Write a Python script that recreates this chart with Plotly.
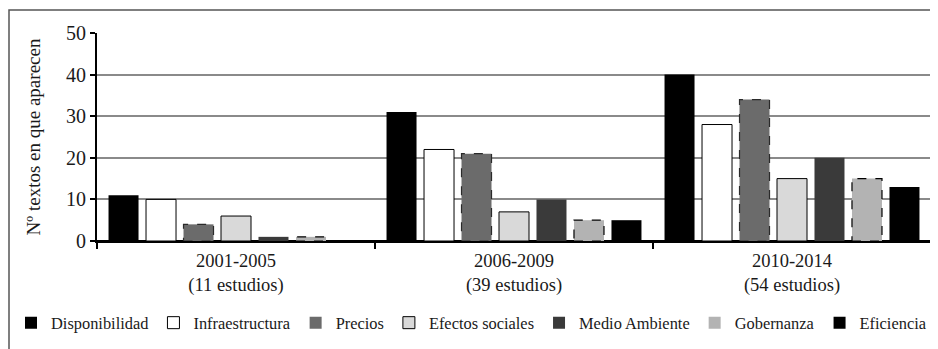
import plotly.graph_objects as go

# ---------------- data ----------------
categories = ["2001-2005<br>(11 estudios)", "2006-2009<br>(39 estudios)", "2010-2014<br>(54 estudios)"]
series_names = ["Disponibilidad", "Infraestructura", "Precios", "Efectos sociales",
                "Medio Ambiente", "Gobernanza", "Eficiencia"]
disponibilidad = [11, 31, 40]
infraestructura = [10, 22, 28]
precios = [4, 21, 34]
efectos_sociales = [6, 7, 15]
medio_ambiente = [1, 10, 20]
gobernanza = [1, 5, 15]
eficiencia = [0, 5, 13]
y_ticks = [0, 10, 20, 30, 40, 50]
y_title = "Nº textos en que aparecen"

series_values = [disponibilidad, infraestructura, precios, efectos_sociales,
                 medio_ambiente, gobernanza, eficiencia]

# ---------------- styles ----------------
fills = ["#000000", "#ffffff", "#6b6b6b", "#d9d9d9", "#3a3a3a", "#b3b3b3", "#000000"]
line_cols = ["#000000", "#000000", "#6b6b6b", "#000000", "#3a3a3a", "#b3b3b3", "#000000"]
line_w = [0, 1, 0, 1, 0, 0, 0]
dashed = [False, False, True, False, False, True, False]
dash_cols = ["", "", "#2a2a2a", "", "", "#000000", ""]

FONT = "Liberation Serif"
TXT = "#1a1a1a"
BARGAP = 0.056
GROUPGAP = 0.2

# page body has an 8px default margin -> compensate
OFF = 8
L, T, PW, PH = 97 - OFF, 33 - OFF, 834, 208
W, H = 938 - OFF, 349 - OFF


def px2x(px):
    return (px - OFF - L) / PW


def px2y(py):
    return (T + PH - (py - OFF)) / PH


fig = go.Figure()
for name, vals, fc, lc, lw in zip(series_names, series_values, fills, line_cols, line_w):
    fig.add_trace(go.Bar(
        name=name, x=categories, y=vals,
        marker=dict(color=fc, line=dict(color=lc, width=lw)),
    ))

# dashed outlines for the dashed-border series, derived from the bar layout
n = len(series_names)
slot = (1 - BARGAP) / n
bw = slot * (1 - GROUPGAP)
for k, (vals, is_d, dc) in enumerate(zip(series_values, dashed, dash_cols)):
    if not is_d:
        continue
    for ci, v in enumerate(vals):
        c = ci - (1 - BARGAP) / 2 + (k + 0.5) * slot
        fig.add_shape(type="rect", xref="x", yref="y",
                      x0=c - bw / 2, x1=c + bw / 2, y0=0, y1=v,
                      line=dict(color=dc, width=1.2, dash="dash"),
                      fillcolor="rgba(0,0,0,0)", layer="above")

# outer frame
fig.add_shape(type="rect", xref="paper", yref="paper",
              x0=px2x(9), x1=px2x(950),
              y0=px2y(360), y1=px2y(10),
              line=dict(color="#555555", width=1.5), layer="below")

fig.update_layout(
    width=W, height=H,
    margin=dict(l=L, r=W - L - PW, t=T, b=H - T - PH, autoexpand=False),
    paper_bgcolor="white", plot_bgcolor="white",
    barmode="group", bargap=BARGAP, bargroupgap=GROUPGAP,
    font=dict(family=FONT, size=18.5, color=TXT),
    showlegend=True,
    legend=dict(orientation="h", x=px2x(11), xanchor="left",
                y=px2y(323), yanchor="middle",
                font=dict(family=FONT, size=16.4, color=TXT),
                itemwidth=30, tracegroupgap=0, bgcolor="rgba(0,0,0,0)"),
)

fig.update_xaxes(
    type="category", range=[-0.5, 2.5], automargin=False,
    showline=True, linecolor="#000000", linewidth=2,
    ticks="outside", tickson="boundaries", ticklen=6, tickwidth=2, tickcolor="#000000",
    ticklabelstandoff=2,
    showgrid=False, tickfont=dict(family=FONT, size=18.5, color=TXT),
)
fig.update_yaxes(
    range=[0, 50], tickvals=y_ticks, automargin=False,
    showline=True, linecolor="#000000", linewidth=2,
    ticks="outside", ticklen=5, tickwidth=2, tickcolor="#000000",
    showgrid=True, gridcolor="#8a8a8a", gridwidth=2,
    zeroline=True, zerolinecolor="#000000", zerolinewidth=2,
    tickfont=dict(family=FONT, size=20, color=TXT),
    title=dict(text=y_title, font=dict(family=FONT, size=19, color=TXT), standoff=20),
)

fig.write_html("out.html")
